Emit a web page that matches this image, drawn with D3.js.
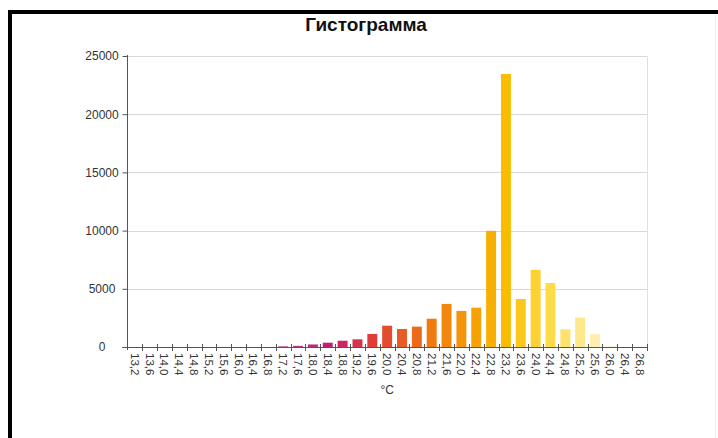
<!DOCTYPE html>
<html>
<head>
<meta charset="utf-8">
<script src="https://cdn.jsdelivr.net/npm/d3@7/dist/d3.min.js"></script>
<style>
  html, body { margin: 0; padding: 0; background: #fff; }
  svg { display: block; }
</style>
</head>
<body>
<script>
// ---- data ----
const title = "Гистограмма";
const xTitle = "°C";
const categories = ["13,2","13,6","14,0","14,4","14,8","15,2","15,6","16,0","16,4","16,8",
  "17,2","17,6","18,0","18,4","18,8","19,2","19,6","20,0","20,4","20,8",
  "21,2","21,6","22,0","22,4","22,8","23,2","23,6","24,0","24,4","24,8",
  "25,2","25,6","26,0","26,4","26,8"];
const counts = [0,0,0,0,0,0,0,0,0,0,
  60,100,220,370,540,660,1120,1830,1550,1750,
  2430,3700,3100,3380,9980,23450,4120,6620,5500,1520,
  2520,1100,60,0,0];
const yTicks = [0, 5000, 10000, 15000, 20000, 25000];
const colorStops = ["#b04a90", "#c02070", "#e03c38", "#f07a10", "#fabc00", "#fddc48", "#fff4d0"];
const colorStopIdx = [10, 13, 16, 20, 25, 28, 32];

const W = 718, H = 438;
const m = { left: 127.3, right: 647, top: 56, bottom: 347 };
const font = "Liberation Sans, Arial, sans-serif";

const svg = d3.select("body").append("svg").attr("width", W).attr("height", H);

// frame
svg.append("rect").attr("x", 8).attr("y", 10).attr("width", 4).attr("height", H - 10).attr("fill", "#000");
svg.append("rect").attr("x", 8).attr("y", 10).attr("width", W - 8).attr("height", 4).attr("fill", "#000");
svg.append("line").attr("x1", 715.5).attr("x2", 715.5).attr("y1", 14).attr("y2", H)
  .attr("stroke", "#eee").attr("stroke-width", 1);

const x = d3.scaleBand().domain(categories).range([m.left, m.right]).padding(0);
const y = d3.scaleLinear().domain([0, 25000]).range([m.bottom, m.top]);
const color = d3.scaleLinear().domain(colorStopIdx).range(colorStops).clamp(true);

// gridlines
svg.append("g").selectAll("line").data(yTicks.filter(d => d > 0)).join("line")
  .attr("x1", m.left).attr("x2", m.right)
  .attr("y1", d => Math.round(y(d)) + 0.5).attr("y2", d => Math.round(y(d)) + 0.5)
  .attr("stroke", "#d8d8d8").attr("stroke-width", 1);
// right plot border
svg.append("line").attr("x1", Math.round(m.right) + 0.5).attr("x2", Math.round(m.right) + 0.5)
  .attr("y1", Math.round(y(25000)) + 0.5).attr("y2", m.bottom)
  .attr("stroke", "#e0e0e0");

// bars
const bw = x.step() * 0.67;
svg.append("g").selectAll("rect").data(categories.map((c, i) => ({ c, v: counts[i], i }))).join("rect")
  .attr("x", d => x(d.c) + (x.step() - bw) / 2)
  .attr("width", bw)
  .attr("y", d => y(d.v))
  .attr("height", d => m.bottom - y(d.v))
  .attr("fill", d => color(d.i));

// y axis
const yAxis = d3.axisLeft(y).tickValues(yTicks).tickSize(5).tickFormat(d3.format("d"));
const gy = svg.append("g").attr("transform", `translate(${Math.round(m.left) + 0.5},0)`).call(yAxis);
gy.select(".domain").attr("stroke", "#555").attr("d", `M0,${m.top - 1}V${m.bottom + 3}`);
gy.selectAll(".tick line").attr("stroke", "#555");
gy.selectAll(".tick text").attr("x", -25.5).attr("text-anchor", "middle")
  .attr("fill", "#333").style("font-family", font).style("font-size", "12px");

// x axis line
svg.append("line").attr("x1", m.left - 5).attr("x2", m.right)
  .attr("y1", m.bottom + 0.5).attr("y2", m.bottom + 0.5).attr("stroke", "#555");
// x ticks at band boundaries
const bounds = categories.map(c => x(c)).concat([x(categories[categories.length - 1]) + x.step()]);
svg.append("g").selectAll("line").data(bounds.slice(1)).join("line")
  .attr("x1", d => Math.round(d) + 0.5).attr("x2", d => Math.round(d) + 0.5)
  .attr("y1", m.bottom - 3).attr("y2", m.bottom + 4).attr("stroke", "#555");

// x labels
const xAxis = d3.axisBottom(x).tickSize(0).tickPadding(0);
const gx = svg.append("g").attr("transform", `translate(0,${m.bottom})`).call(xAxis);
gx.select(".domain").remove();
gx.selectAll(".tick text")
  .attr("transform", "translate(0,6) rotate(90)")
  .attr("x", 0).attr("y", 0).attr("dy", "0.35em")
  .attr("text-anchor", "start")
  .attr("fill", "#333")
  .style("font-family", font).style("font-size", "11.5px");

// x title
svg.append("text").attr("x", (m.left + m.right) / 2).attr("y", 394)
  .attr("text-anchor", "middle").attr("fill", "#333")
  .style("font-family", font).style("font-size", "12px")
  .text(xTitle);

// title
svg.append("text").attr("x", 366).attr("y", 31)
  .attr("text-anchor", "middle").attr("fill", "#111")
  .style("font-family", font).style("font-size", "19px").style("font-weight", "bold")
  .text(title);
</script>
</body>
</html>
